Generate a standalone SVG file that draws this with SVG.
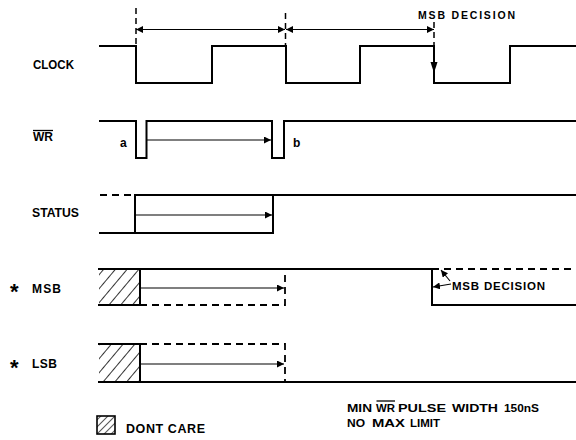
<svg xmlns="http://www.w3.org/2000/svg" width="576" height="440" viewBox="0 0 576 440">
<style>
.sig{fill:none;stroke:#000;stroke-width:2;stroke-linejoin:miter;stroke-linecap:square}
.dsig{fill:none;stroke:#000;stroke-width:1.8;stroke-dasharray:7,5}
.dv{fill:none;stroke:#000;stroke-width:1.5;stroke-dasharray:6,4}
.arr{fill:none;stroke:#000;stroke-width:1.1}
.lbl{font-family:"Liberation Sans",Arial,sans-serif;font-weight:bold;fill:#000}
</style>
<defs>
<marker id="ah" viewBox="0 0 10 10" refX="10" refY="5" markerWidth="7" markerHeight="7" markerUnits="userSpaceOnUse" orient="auto-start-reverse">
<path d="M0,0 L10,5 L0,10 z" fill="#000"/>
</marker>
<pattern id="hatch" patternUnits="userSpaceOnUse" width="9" height="9" patternTransform="rotate(40)">
<line x1="0" y1="0" x2="0" y2="9" stroke="#000" stroke-width="1.6"/>
</pattern>
<pattern id="hatchS" patternUnits="userSpaceOnUse" width="5" height="5" patternTransform="rotate(45)">
<line x1="0" y1="0" x2="0" y2="5" stroke="#000" stroke-width="1.3"/>
</pattern>
</defs>

<g id="labels">
<text class="lbl" x="33" y="69" font-size="12" textLength="41" lengthAdjust="spacingAndGlyphs">CLOCK</text>
<text class="lbl" x="33" y="141" font-size="12" textLength="20" lengthAdjust="spacingAndGlyphs">WR</text>
<line x1="33" y1="130.5" x2="53" y2="130.5" stroke="#000" stroke-width="1.3"/>
<text class="lbl" x="32" y="217" font-size="12" textLength="47" lengthAdjust="spacingAndGlyphs">STATUS</text>
<text class="lbl" x="10" y="299" font-size="22">*</text>
<text class="lbl" x="32" y="293" font-size="12" textLength="29" lengthAdjust="spacing">MSB</text>
<text class="lbl" x="10" y="375" font-size="22">*</text>
<text class="lbl" x="32" y="368" font-size="12" textLength="25" lengthAdjust="spacing">LSB</text>
</g>

<g id="clock">
<path class="sig" d="M100,46 H136 V83 H212 V46 H286 V83 H360 V46 H434 V83 H510 V46 H576"/>
<path d="M430.5,62 L437.5,62 L434,73 z" fill="#000"/>
</g>

<g id="wr">
<path class="sig" d="M100,121 H136 V158 H146.5 V121 H272 V158 H284 V121 H576"/>
<text class="lbl" x="120" y="147" font-size="12">a</text>
<text class="lbl" x="293" y="147" font-size="12">b</text>
</g>

<g id="status">
<path class="dsig" d="M100,195 H135"/>
<path class="sig" d="M135,195 H576 M100,233 H273 V195 M135,195 V233"/>
</g>

<g id="msb">
<rect x="99" y="269" width="41" height="36" fill="url(#hatch)"/>
<path class="sig" d="M99,269 H432 V305 H576 M99,305 H140 M140,269 V305"/>
<path class="dsig" d="M140,305 H285 V269 M432,269 H576"/>
<text class="lbl" x="452" y="290" font-size="11.5" textLength="93" lengthAdjust="spacing">MSB DECISION</text>
</g>

<g id="lsb">
<rect x="99" y="344" width="41" height="38" fill="url(#hatch)"/>
<path class="sig" d="M99,344 H140 V382 M99,382 H576"/>
<path class="dsig" d="M140,344 H285 V382"/>
</g>

<g id="connectors">
<path class="dv" d="M136,8 V46"/>
<path class="dv" d="M285.5,13 V46"/>
<path class="dv" d="M434,22 V46"/>
<line class="arr" x1="136" y1="29.5" x2="285" y2="29.5" marker-start="url(#ah)" marker-end="url(#ah)"/>
<line class="arr" x1="286" y1="29.5" x2="434" y2="29.5" marker-start="url(#ah)" marker-end="url(#ah)"/>
<line class="arr" x1="147" y1="140" x2="271" y2="140" marker-end="url(#ah)"/>
<line class="arr" x1="136" y1="215" x2="272" y2="215" marker-end="url(#ah)"/>
<line class="arr" x1="141" y1="288" x2="284" y2="288" marker-end="url(#ah)"/>
<line class="arr" x1="141" y1="364" x2="284" y2="364" marker-end="url(#ah)"/>
<line class="arr" x1="451" y1="284" x2="433" y2="287" marker-end="url(#ah)"/>
<line class="arr" x1="450" y1="281" x2="441" y2="270" marker-end="url(#ah)"/>
</g>

<g id="top-label">
<text class="lbl" x="418" y="19" font-size="10.5" textLength="97" lengthAdjust="spacing">MSB DECISION</text>
</g>

<g id="legend">
<rect x="97" y="416" width="18" height="18" fill="url(#hatchS)" stroke="#000" stroke-width="1.6"/>
<text class="lbl" x="126" y="433" font-size="12.5" textLength="79" lengthAdjust="spacing">DONT CARE</text>
</g>

<g id="note">
<text class="lbl" y="412" font-size="11.5"><tspan x="347" textLength="25" lengthAdjust="spacingAndGlyphs">MIN</tspan> <tspan x="376" textLength="19" lengthAdjust="spacingAndGlyphs">WR</tspan> <tspan x="398" textLength="48" lengthAdjust="spacingAndGlyphs">PULSE</tspan> <tspan x="452" textLength="46" lengthAdjust="spacingAndGlyphs">WIDTH</tspan> <tspan x="504" textLength="35" lengthAdjust="spacingAndGlyphs">150nS</tspan></text>
<line x1="376.5" y1="401" x2="395" y2="401" stroke="#000" stroke-width="1.3"/>
<text class="lbl" y="427" font-size="11.5"><tspan x="347" textLength="18" lengthAdjust="spacingAndGlyphs">NO</tspan> <tspan x="372" textLength="33" lengthAdjust="spacingAndGlyphs">MAX</tspan> <tspan x="410" textLength="30" lengthAdjust="spacingAndGlyphs">LIMIT</tspan></text>
</g>
</svg>
